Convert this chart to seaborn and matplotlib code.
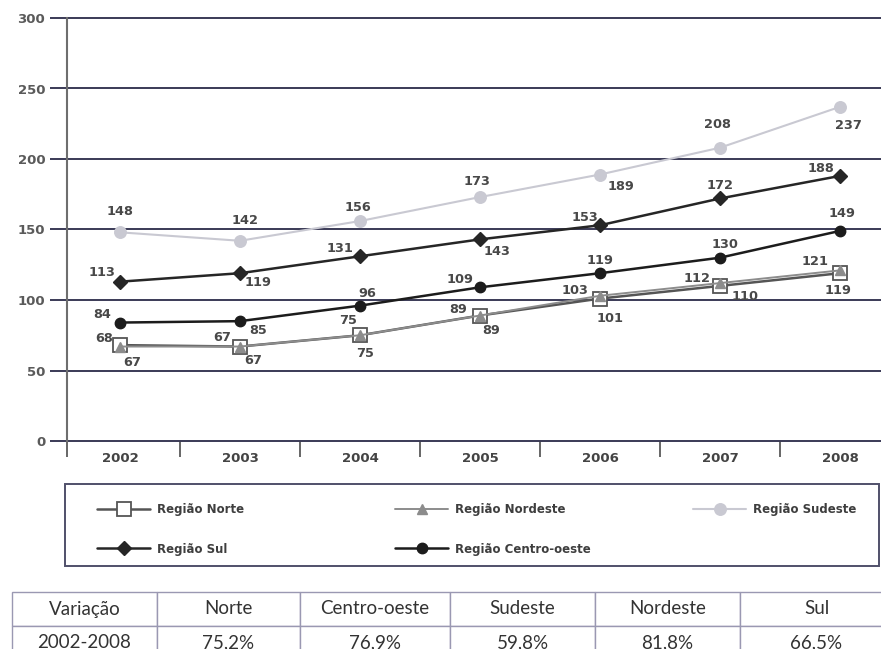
import matplotlib
matplotlib.use("Agg")
import matplotlib.pyplot as plt
import pandas as pd
import seaborn as sns
from matplotlib.patches import Rectangle

# Índice por região, 2002-2008
anos = ["2002", "2003", "2004", "2005", "2006", "2007", "2008"]
norte = [68, 67, 75, 89, 101, 110, 119]
nordeste = [67, 67, 75, 89, 103, 112, 121]
sudeste = [148, 142, 156, 173, 189, 208, 237]
sul = [113, 119, 131, 143, 153, 172, 188]
centro_oeste = [84, 85, 96, 109, 119, 130, 149]

y_ticks = [0, 50, 100, 150, 200, 250, 300]

# Tabela de variação
tabela_cabecalho = ["Variação", "Norte", "Centro-oeste", "Sudeste", "Nordeste", "Sul"]
tabela_linha = ["2002-2008", "75,2%", "76,9%", "59,8%", "81,8%", "66,5%"]

series = {
    "Região Norte": norte,
    "Região Nordeste": nordeste,
    "Região Sudeste": sudeste,
    "Região Sul": sul,
    "Região Centro-oeste": centro_oeste,
}

estilos = {
    "Região Norte": dict(color="#555555", marker="s", markersize=9.5, markerfacecolor="white",
                         markeredgecolor="#555555", markeredgewidth=1.3, linewidth=1.8, zorder=3),
    "Região Nordeste": dict(color="#8c8c8c", marker="^", markersize=7.5, markerfacecolor="#8c8c8c",
                            markeredgecolor="#8c8c8c", markeredgewidth=1, linewidth=1.4, zorder=4),
    "Região Sudeste": dict(color="#c9c9d2", marker="o", markersize=8.3, markerfacecolor="#c9c9d2",
                           markeredgecolor="#c9c9d2", markeredgewidth=1, linewidth=1.5, zorder=2),
    "Região Sul": dict(color="#262626", marker="D", markersize=7, markerfacecolor="#262626",
                       markeredgecolor="#262626", markeredgewidth=1, linewidth=1.8, zorder=3),
    "Região Centro-oeste": dict(color="#1c1c1c", marker="o", markersize=7.5, markerfacecolor="#1c1c1c",
                                markeredgecolor="#1c1c1c", markeredgewidth=1, linewidth=1.8, zorder=3),
}

# Deslocamento (pixels) de cada rótulo de valor em relação ao ponto
deslocamentos = {
    "Região Sudeste": [(0, 21), (5, 20), (-2, 14), (-3, 16), (21, -12), (-3, 23), (8, -19)],
    "Região Sul": [(-18, 9), (18, -9), (-20, 8), (17, -12), (-15, 8), (0, 13), (-19, 7)],
    "Região Centro-oeste": [(-18, 8), (18, -9), (7, 12), (-20, 8), (0, 13), (5, 13), (2, 17)],
    "Região Norte": [(-16, 7), (-18, 9), (-12, 15), (-22, 6), (10, -20), (25, -11), (-2, -17)],
    "Região Nordeste": [(12, -16), (13, -14), (5, -18), (11, -15), (-25, 5), (-23, 5), (-25, 9)],
}

sns.set_style("white")
plt.rcParams["font.family"] = ["DejaVu Sans"]

W, H = 881, 649
fig = plt.figure(figsize=(W / 100, H / 100), dpi=100)
fig.patch.set_facecolor("white")


def fx(px):
    return px / W


def fy(py):
    return 1 - py / H


cor_grade = "#3a3a56"

ax = fig.add_axes([fx(67), fy(441), fx(881) - fx(67), fy(18) - fy(441)])
ax.set_facecolor("white")

for nome, valores in series.items():
    df = pd.DataFrame({"pos": range(len(anos)), "valor": valores})
    sns.lineplot(data=df, x="pos", y="valor", ax=ax, label=nome, errorbar=None, **estilos[nome])
    for i, v in enumerate(valores):
        dx, dy = deslocamentos[nome][i]
        ax.annotate(str(v), (i, v), xytext=(dx, dy), textcoords="offset pixels",
                    ha="center", va="center", fontsize=9.3, fontweight="bold",
                    color="#484848", zorder=6)

handles, labels = ax.get_legend_handles_labels()
if ax.get_legend() is not None:
    ax.get_legend().remove()

x_esq, x_dir = -0.4416, 6.342
ax.set_xlim(x_esq, x_dir)
ax.set_ylim(0, 300)

for y in y_ticks:
    ax.axhline(y, color=cor_grade, lw=1.4, zorder=1, clip_on=False)

ax.set_yticks(y_ticks)
ax.set_yticklabels([str(t) for t in y_ticks], fontweight="bold")
ax.tick_params(axis="y", length=12.2, width=1.4, color=cor_grade, pad=3.5,
               labelsize=9.5, labelcolor="#5a5a5a", direction="out", left=True)

ax.set_xticks([x_esq] + [i + 0.5 for i in range(len(anos) - 1)])
ax.set_xticklabels([])
ax.set_xticks(range(len(anos)), minor=True)
ax.set_xticklabels(anos, minor=True, fontweight="bold")
ax.tick_params(axis="x", which="major", length=11.5, width=1.4, color="#666666",
               direction="out", bottom=True)
ax.tick_params(axis="x", which="minor", length=0, pad=8, labelsize=9.5,
               labelcolor="#444444", bottom=True)

ax.set_xlabel("")
ax.set_ylabel("")
for lado in ["top", "right", "bottom"]:
    ax.spines[lado].set_visible(False)
ax.spines["left"].set_color("#6e6e6e")
ax.spines["left"].set_linewidth(1.5)

# Legenda em caixa abaixo do gráfico
mapa = dict(zip(labels, handles))
fs = 8.5
fs_px = fs * 100 / 72
posicoes = {
    "Região Norte": (97, 510),
    "Região Nordeste": (395, 510),
    "Região Sudeste": (693, 510),
    "Região Sul": (97, 549),
    "Região Centro-oeste": (395, 549),
}
for nome, (x0, y0) in posicoes.items():
    fig.legend(handles=[mapa[nome]], labels=[nome], loc="center left",
               bbox_to_anchor=(fx(x0), fy(y0)), frameon=False, borderpad=0,
               borderaxespad=0, handlelength=53 / fs_px, handletextpad=7 / fs_px,
               numpoints=1, prop=dict(weight="bold", size=fs), labelcolor="#3e3e3e")

fig.add_artist(Rectangle((fx(65), fy(566)), fx(879) - fx(65), fy(484) - fy(566),
                         transform=fig.transFigure, fill=False, ec="#50506a", lw=1.4))

# Tabela de variação percentual
larguras = [145, 143, 150, 145, 145, 153]
ax_t = fig.add_axes([fx(12), fy(660), fx(12 + sum(larguras)) - fx(12), fy(592) - fy(660)])
ax_t.axis("off")
tbl = ax_t.table(cellText=[tabela_linha], colLabels=tabela_cabecalho, cellLoc="center",
                 colWidths=[w / sum(larguras) for w in larguras], bbox=[0, 0, 1, 1])
tbl.auto_set_font_size(False)
for (r, c), cell in tbl.get_celld().items():
    cell.set_edgecolor("#9a98b2")
    cell.set_linewidth(1.0)
    cell.set_facecolor("white")
    cell.get_text().set_fontsize(13.5)
    cell.get_text().set_family(["Lato", "DejaVu Sans"])
    cell.get_text().set_color("#333333")

fig.savefig("out.png", dpi=100, facecolor="white")
